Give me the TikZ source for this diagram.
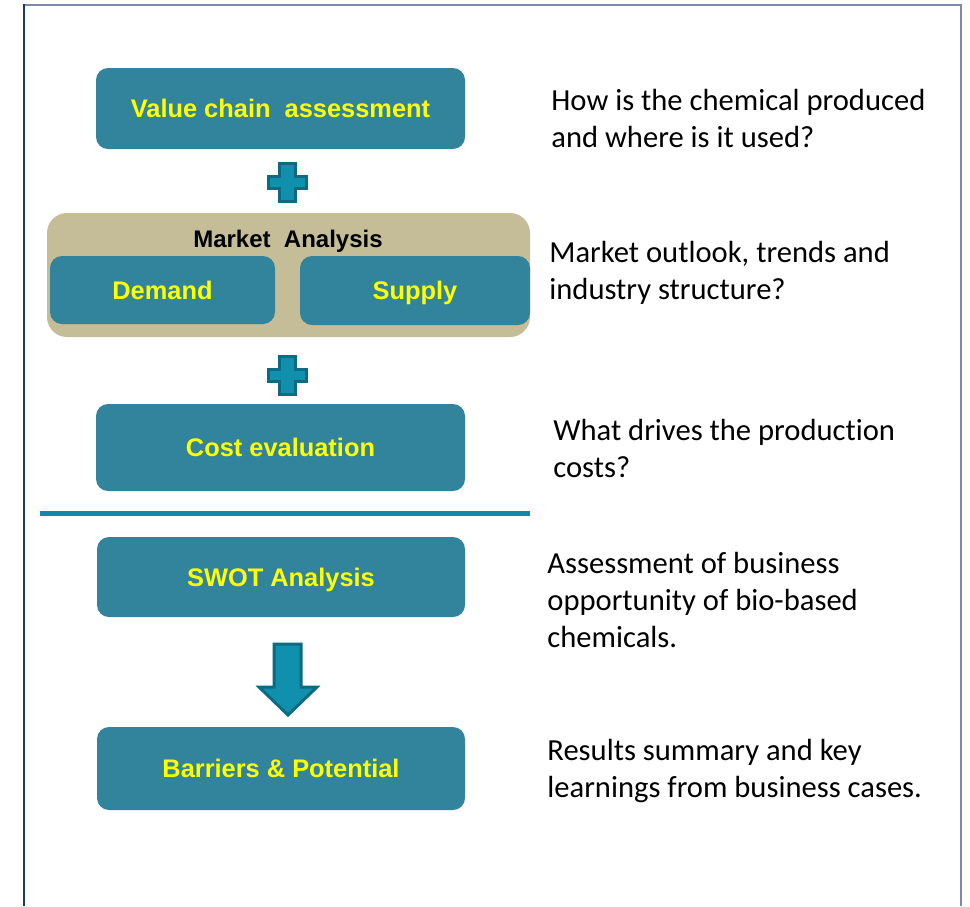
\documentclass[tikz,border=0pt]{standalone}
\usepackage{fontspec}
\setmainfont{Liberation Sans}
\newfontfamily\calib[Ligatures=NoCommon]{Carlito}
\definecolor{teal}{HTML}{31849B}
\definecolor{tan}{HTML}{C4BD97}
\definecolor{ylw}{HTML}{FFFF00}
\definecolor{plusfill}{HTML}{1190AD}
\definecolor{plusedge}{HTML}{0C6A82}
\definecolor{sepline}{HTML}{1188AB}
\definecolor{frameL}{HTML}{1F3470}
\definecolor{frameT}{HTML}{7C8BAA}
\begin{document}
\begin{tikzpicture}[x=0.5pt,y=-0.5pt,
  boxnode/.style={fill=teal,rounded corners=6pt,inner sep=0pt,
    text height=9.1pt,text depth=0pt,
    font=\bfseries\fontsize{12.7}{14}\selectfont,text=ylw},
  qtext/.style={anchor=west,align=left,inner sep=0pt,
    font=\calib\fontsize{15.3}{18.5}\selectfont,text=black},
  symb/.style={fill=plusfill,draw=plusedge,line width=1.5pt,line join=miter}]
\useasboundingbox (0,0) rectangle (970,906);
\fill[white] (0,0) rectangle (970,906);
% frame
\draw[frameT,line width=1pt] (24,4.5) -- (961,4.5) -- (961,906);
\draw[frameL,line width=1.2pt] (24,4) -- (24,906);
% boxes
\node[boxnode,minimum width=184.5pt,minimum height=40.5pt] (vca) at (280.5,108.5) {Value chain\ \ assessment};
\node[fill=tan,rounded corners=10pt,minimum width=241.5pt,minimum height=62pt,inner sep=0pt] (ma) at (288.5,275) {};
\node[font=\bfseries\fontsize{12}{14}\selectfont,inner sep=0pt,text height=8.6pt,text depth=0pt] (mat) at (288,239) {Market\ \ Analysis};
\node[boxnode,minimum width=112.5pt,minimum height=34pt] (dem) at (162.5,290) {Demand};
\node[boxnode,minimum width=115pt,minimum height=34.5pt] (sup) at (415,290.5) {Supply};
\node[boxnode,minimum width=184.5pt,minimum height=43.5pt] (cost) at (280.5,447.5) {Cost evaluation};
\node[boxnode,minimum width=184pt,minimum height=40pt] (swot) at (281,577) {SWOT Analysis};
\node[boxnode,minimum width=184pt,minimum height=41.5pt] (bar) at (281,768.5) {Barriers \& Potential};
% plus signs
\foreach \cy in {182,375}{
  \draw[symb] (279.5,\cy-19) -- (295.5,\cy-19) -- (295.5,\cy-6) -- (306.5,\cy-6) -- (306.5,\cy+6)
    -- (295.5,\cy+6) -- (295.5,\cy+19) -- (279.5,\cy+19) -- (279.5,\cy+6) -- (268.5,\cy+6)
    -- (268.5,\cy-6) -- (279.5,\cy-6) -- cycle;
}
% down arrow
\draw[symb] (274,644) -- (301,644) -- (301,687) -- (317,687) -- (288,715) -- (259,687) -- (274,687) -- cycle;
% separator
\coordinate (sepL) at (40,513);
\coordinate (sepR) at (530,513);
\draw[sepline,line width=2.5pt] (sepL) -- (sepR);
% questions
\node[qtext] (q1) at (551,118) {How is the chemical produced\\and where is it used?};
\node[qtext] (q2) at (549,273) {Market outlook, trends and\\industry structure?};
\node[qtext] (q3) at (553,448) {What drives the production\\costs?};
\node[qtext] (q4) at (547,600) {Assessment of business\\opportunity of bio-based\\chemicals.};
\node[qtext] (q5) at (547,771) {Results summary and key\\learnings from business cases.};
\end{tikzpicture}
\end{document}
